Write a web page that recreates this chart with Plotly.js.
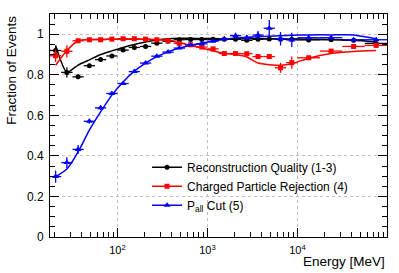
<!DOCTYPE html>
<html>
<head>
<meta charset="utf-8">
<script src="https://cdn.plot.ly/plotly-3.0.1.min.js"></script>
<style>html,body{margin:0;padding:0;background:#fff;}#chart{width:399px;height:273px;}</style>
</head>
<body>
<div id="chart"></div>
<script>
// Bin edges in MeV (0.125 dex up to 10 GeV, 0.25 dex above)
var binEdgesMeV = [17.78, 23.71, 31.62, 42.17, 56.23, 74.99, 100, 133.35, 177.83, 237.14, 316.23, 421.70, 562.34, 749.89,
  1000, 1333.5, 1778.3, 2371.4, 3162.3, 4217.0, 5623.4, 7498.9, 10000, 17782.8, 31622.8, 56234.1, 100000];

// Reconstruction Quality (1-3)
var recoData = [0.920, 0.812, 0.790, 0.845, 0.875, 0.893, 0.922, 0.935, 0.940, 0.956, 0.965, 0.973, 0.974,
  0.974, 0.975, 0.976, 0.975, 0.970, 0.975, 0.977, 0.975, 0.975, 0.972, 0.973, 0.970, 0.955];
var recoErr = [0.025, 0.025, 0.012, 0.008, 0.007, 0.006, 0.005, 0.005, 0.005, 0.005, 0.005, 0.005, 0.005,
  0.005, 0.006, 0.006, 0.007, 0.007, 0.008, 0.010, 0.010, 0.012, 0.008, 0.008, 0.010, 0.012];
var recoSim = [0.943, 0.812, 0.848, 0.874, 0.900, 0.918, 0.935, 0.950, 0.962, 0.972, 0.978, 0.980, 0.980,
  0.979, 0.979, 0.978, 0.978, 0.978, 0.978, 0.978, 0.977, 0.977, 0.976, 0.974, 0.970, 0.962];

// Charged Particle Rejection (4)
var chargedData = [0.894, 0.916, 0.968, 0.973, 0.973, 0.976, 0.978, 0.978, 0.976, 0.973, 0.968, 0.955, 0.948,
  0.937, 0.928, 0.905, 0.905, 0.904, 0.890, 0.890, 0.835, 0.860, 0.884, 0.917, 0.940, 0.945];
var chargedErr = [0.030, 0.030, 0.010, 0.006, 0.005, 0.005, 0.005, 0.005, 0.005, 0.005, 0.005, 0.005, 0.006,
  0.006, 0.007, 0.007, 0.008, 0.008, 0.012, 0.012, 0.025, 0.030, 0.010, 0.008, 0.008, 0.012];
var chargedSim = [0.847, 0.920, 0.968, 0.974, 0.975, 0.975, 0.975, 0.975, 0.975, 0.974, 0.970, 0.958, 0.945,
  0.932, 0.918, 0.906, 0.900, 0.888, 0.858, 0.850, 0.847, 0.855, 0.882, 0.905, 0.915, 0.920];

// P_all Cut (5)
var pallData = [0.298, 0.367, 0.432, 0.571, 0.637, 0.708, 0.757, 0.816, 0.858, 0.892, 0.912, 0.932, 0.948,
  0.953, 0.966, 0.978, 0.993, 0.984, 0.996, 1.030, 0.978, 0.972, 0.983, 0.983, 0.973, 0.973];
var pallErr = [0.030, 0.027, 0.022, 0.012, 0.010, 0.008, 0.007, 0.007, 0.006, 0.006, 0.006, 0.006, 0.006,
  0.007, 0.008, 0.010, 0.015, 0.012, 0.020, 0.040, 0.033, 0.035, 0.010, 0.008, 0.008, 0.010];
var pallSim = [0.297, 0.335, 0.420, 0.527, 0.617, 0.700, 0.765, 0.818, 0.858, 0.890, 0.913, 0.932, 0.945,
  0.957, 0.966, 0.975, 0.982, 0.985, 0.988, 0.990, 0.993, 0.995, 0.997, 0.997, 0.997, 0.978];

var seriesNames = ['Reconstruction Quality (1-3)', 'Charged Particle Rejection (4)', 'P<sub>all</sub> Cut (5)'];
var yTickVals = [0, 0.2, 0.4, 0.6, 0.8, 1];
var xTickVals = [100, 1000, 10000];
var xTickText = ['10<sup>2</sup>', '10<sup>3</sup>', '10<sup>4</sup>'];

// derived bin centres and horizontal errors
var energy = [], exMinus = [], exPlus = [];
for (var i = 0; i < binEdgesMeV.length - 1; i++) {
  var lo = binEdgesMeV[i], hi = binEdgesMeV[i + 1];
  var c = Math.sqrt(lo * hi);
  energy.push(c); exMinus.push(c - lo); exPlus.push(hi - c);
}

function pts(y, err, color, symbol, size) {
  return {
    x: energy, y: y, type: 'scatter', mode: 'markers', showlegend: false,
    marker: {color: color, symbol: symbol, size: size},
    error_y: {type: 'data', array: err, color: color, thickness: 1.3, width: 0},
    error_x: {type: 'data', symmetric: false, array: exPlus, arrayminus: exMinus, color: color, thickness: 1.3, width: 0}
  };
}
function curve(y, color) {
  return {x: energy, y: y, type: 'scatter', mode: 'lines', showlegend: false,
    line: {color: color, width: 1.5, shape: 'spline', smoothing: 0.6}};
}
function leg(name, color, symbol, size) {
  return {x: [null], y: [null], type: 'scatter', mode: 'lines+markers', name: name,
    line: {color: color, width: 1.5}, marker: {color: color, symbol: symbol, size: size}};
}

var colors = ['#000000', '#ff0000', '#0000ff'];
var traces = [
  curve(recoSim, colors[0]), curve(chargedSim, colors[1]), curve(pallSim, colors[2]),
  pts(recoData, recoErr, colors[0], 'circle', 5),
  pts(chargedData, chargedErr, colors[1], 'square', 5),
  pts(pallData, pallErr, colors[2], 'triangle-up', 6),
  leg(seriesNames[0], colors[0], 'circle', 5),
  leg(seriesNames[1], colors[1], 'square', 5),
  leg(seriesNames[2], colors[2], 'triangle-up', 6)
];

var font = 'Liberation Sans, Arial, Helvetica, sans-serif';
var layout = {
  width: 399, height: 273,
  margin: {l: 50, r: 12, t: 14, b: 36},
  paper_bgcolor: '#fff', plot_bgcolor: '#fff',
  font: {family: font, color: '#000', size: 12},
  showlegend: true,
  legend: {x: 0.288, y: 0.228, xanchor: 'left', yanchor: 'middle', bgcolor: 'rgba(255,255,255,0)',
    font: {family: font, size: 12, color: '#000'}, itemwidth: 30},
  xaxis: {
    type: 'log', range: [1.25, 4.996], tickvals: xTickVals, ticktext: xTickText,
    ticks: 'inside', ticklen: 9, tickcolor: '#000', mirror: 'ticks',
    showline: true, linecolor: '#000', linewidth: 1,
    showgrid: true, gridcolor: '#c0c0c0', griddash: 'dot', gridwidth: 1,
    zeroline: false, tickfont: {size: 11}, ticklabelstandoff: 3,
    minor: {ticks: 'inside', ticklen: 5, tickcolor: '#000', dtick: 'D1', showgrid: false}
  },
  yaxis: {
    range: [0, 1.1], tickvals: yTickVals, ticktext: yTickVals.map(String),
    ticks: 'inside', ticklen: 9, tickcolor: '#000', mirror: 'ticks',
    showline: true, linecolor: '#000', linewidth: 1,
    showgrid: true, gridcolor: '#c0c0c0', griddash: 'dot', gridwidth: 1,
    zeroline: false, tickfont: {size: 12}, ticklabelstandoff: 3,
    minor: {ticks: 'inside', ticklen: 5, tickcolor: '#000', dtick: 0.05, showgrid: false}
  },
  annotations: [
    {text: 'Fraction of Events', xref: 'paper', yref: 'paper', x: -0.113, y: 1.003,
      xanchor: 'center', yanchor: 'top', textangle: -90, showarrow: false,
      font: {family: font, size: 13.5, color: '#000'}},
    {text: 'Energy [MeV]', xref: 'paper', yref: 'paper', x: 1.0, y: -0.112,
      xanchor: 'right', yanchor: 'middle', showarrow: false,
      font: {family: font, size: 13.5, color: '#000'}}
  ]
};

Plotly.newPlot('chart', traces, layout, {displayModeBar: false, staticPlot: true});
</script>
</body>
</html>
